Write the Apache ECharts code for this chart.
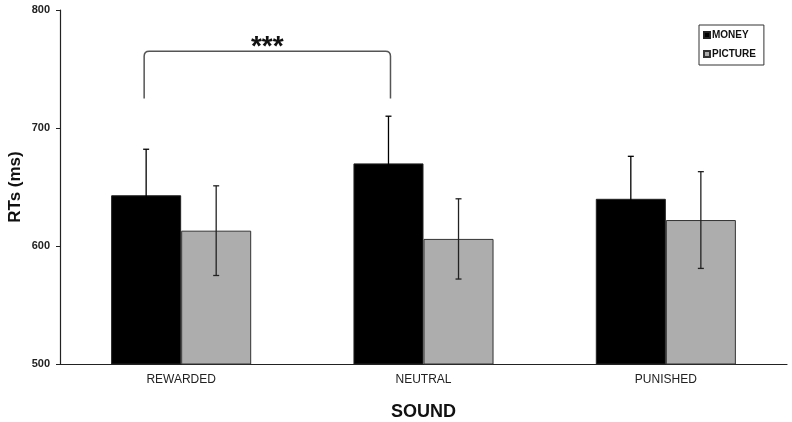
<!DOCTYPE html>
<html>
<head>
<meta charset="utf-8">
<script src="https://cdn.jsdelivr.net/npm/echarts@6/dist/echarts.min.js"></script>
<style>html,body{margin:0;padding:0;background:#fff}#c{width:792px;height:422px}</style>
</head>
<body>
<div id="c"></div>
<script>
const categories = ['REWARDED', 'NEUTRAL', 'PUNISHED'];
const seriesNames = ['MONEY', 'PICTURE'];
const moneyValues = [643, 670, 640];
const moneyErrors = [39, 40, 36];
const pictureValues = [613, 606, 622];
const pictureErrors = [38, 34, 41];
const yTicks = [500, 600, 700, 800];
// significance bracket: [fromCategory, toCategory, bottomValue, topValue, label]
const brackets = [[0, 1, 725, 765, '***']];

const BAR_FRAC = 0.289;

function errData(vals, errs) {
  return vals.map((v, i) => [i, v - errs[i], v + errs[i]]);
}

function errorRender(sign, color) {
  return function (params, api) {
    const idx = api.value(0);
    const band = api.size([1, 0])[0];
    const off = sign * band * BAR_FRAC / 2;
    const lo = api.coord([idx, api.value(1)]);
    const hi = api.coord([idx, api.value(2)]);
    const x = lo[0] + off;
    const cap = 3;
    const st = { stroke: color, lineWidth: 1.3 };
    return {
      type: 'group',
      children: [
        { type: 'line', shape: { x1: x, y1: lo[1], x2: x, y2: hi[1] }, style: st },
        { type: 'line', shape: { x1: x - cap, y1: hi[1], x2: x + cap, y2: hi[1] }, style: st },
        { type: 'line', shape: { x1: x - cap, y1: lo[1], x2: x + cap, y2: lo[1] }, style: st }
      ]
    };
  };
}

const chart = echarts.init(document.getElementById('c'), null, { renderer: 'canvas' });
chart.setOption({
  animation: false,
  backgroundColor: '#fff',
  grid: { left: 60, right: 5, top: 10, bottom: 58, containLabel: false, outerBoundsMode: 'none' },
  legend: {
    data: seriesNames,
    orient: 'vertical',
    left: 699,
    top: 25,
    width: 65,
    padding: [5, 8, 6, 4],
    itemGap: 9,
    itemWidth: 6,
    itemHeight: 6,
    borderColor: '#333',
    borderWidth: 1,
    icon: 'rect',
    textStyle: { fontFamily: 'Liberation Sans', fontSize: 10, color: '#111', fontWeight: 'bold', padding: [0, 0, 0, -3] }
  },
  xAxis: {
    type: 'category',
    data: categories,
    axisTick: { show: false },
    axisLine: { lineStyle: { color: '#222', width: 1.2 } },
    axisLabel: { fontFamily: 'Liberation Sans', fontSize: 12, color: '#222', margin: 10 },
    name: 'SOUND',
    nameLocation: 'middle',
    nameGap: 39,
    nameTextStyle: { fontFamily: 'Liberation Sans', fontSize: 18, fontWeight: 'bold', color: '#111' }
  },
  yAxis: {
    type: 'value',
    min: yTicks[0],
    max: yTicks[yTicks.length - 1],
    interval: 100,
    splitLine: { show: false },
    axisLine: { show: true, lineStyle: { color: '#222', width: 1.2 } },
    axisTick: { show: true, length: 4, lineStyle: { color: '#222' } },
    axisLabel: { fontFamily: 'Liberation Sans', fontSize: 11, fontWeight: 'bold', color: '#222', margin: 10 },
    name: 'RTs (ms)',
    nameLocation: 'middle',
    nameGap: 36,
    nameMoveOverlap: false,
    nameTextStyle: { fontFamily: 'Liberation Sans', fontSize: 17, fontWeight: 'bold', color: '#111', padding: [0, 0, 0, 0] }
  },
  series: [
    {
      name: seriesNames[0], type: 'bar', data: moneyValues,
      barWidth: (BAR_FRAC * 100) + '%', barGap: '0%',
      itemStyle: { color: '#000', borderColor: '#222', borderWidth: 1 }
    },
    {
      name: seriesNames[1], type: 'bar', data: pictureValues,
      barWidth: (BAR_FRAC * 100) + '%', barGap: '0%',
      itemStyle: { color: '#adadad', borderColor: '#333', borderWidth: 1 }
    },
    {
      type: 'custom', name: 'errM', data: errData(moneyValues, moneyErrors),
      encode: { x: 0, y: [1, 2] }, renderItem: errorRender(-1, '#000'), z: 5, silent: true
    },
    {
      type: 'custom', name: 'errP', data: errData(pictureValues, pictureErrors),
      encode: { x: 0, y: [1, 2] }, renderItem: errorRender(1, '#222'), z: 5, silent: true
    },
    {
      type: 'custom', name: 'bracket', data: brackets.map(b => [b[0], b[1], b[2], b[3]]),
      encode: { x: [0, 1], y: [2, 3] }, z: 6, silent: true,
      renderItem: function (params, api) {
        const band = api.size([1, 0])[0];
        const off = -band * BAR_FRAC / 2;
        const a = api.coord([api.value(0), api.value(2)]);
        const b = api.coord([api.value(1), api.value(3)]);
        const x1 = a[0] + off - 2, x2 = b[0] + off + 2, yb = a[1], yt = b[1], r = 5;
        const label = brackets[params.dataIndex][4];
        return {
          type: 'group',
          children: [
            {
              type: 'path',
              shape: { pathData: `M${x1} ${yb} L${x1} ${yt + r} Q${x1} ${yt} ${x1 + r} ${yt} L${x2 - r} ${yt} Q${x2} ${yt} ${x2} ${yt + r} L${x2} ${yb}` },
              style: { stroke: '#555', lineWidth: 1.5, fill: null }
            },
            {
              type: 'text',
              style: { text: label, x: (x1 + x2) / 2, y: yt - 4, align: 'center', verticalAlign: 'middle',
                font: 'bold 28px "Liberation Sans"', fill: '#111' }
            }
          ]
        };
      }
    }
  ]
});
</script>
</body>
</html>
